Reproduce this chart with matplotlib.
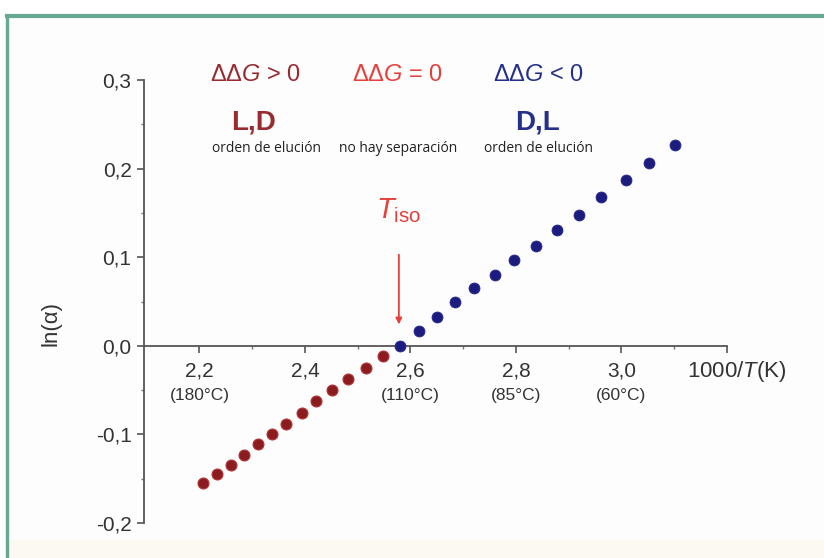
import numpy as np
import matplotlib
matplotlib.use('Agg')
import matplotlib.pyplot as plt
from matplotlib.lines import Line2D
from matplotlib.patches import Rectangle

plt.rcParams['font.family'] = ['Liberation Sans', 'DejaVu Sans']
plt.rcParams['mathtext.fontset'] = 'custom'
plt.rcParams['mathtext.rm'] = 'Liberation Sans'
plt.rcParams['mathtext.it'] = 'Liberation Sans:italic'
plt.rcParams['mathtext.bf'] = 'Liberation Sans:bold'

# Data
red_x = [2.207, 2.233, 2.259, 2.284, 2.311, 2.337, 2.364, 2.394, 2.421, 2.451, 2.482, 2.515, 2.547]
red_y = [-0.155, -0.145, -0.134, -0.123, -0.111, -0.100, -0.088, -0.076, -0.062, -0.050, -0.038, -0.025, -0.011]
blue_x = [2.581, 2.617, 2.650, 2.685, 2.721, 2.760, 2.797, 2.837, 2.877, 2.920, 2.962, 3.008, 3.053, 3.102]
blue_y = [0.000, 0.017, 0.032, 0.049, 0.065, 0.080, 0.097, 0.113, 0.131, 0.148, 0.168, 0.187, 0.206, 0.227]

x_ticks = [2.2, 2.4, 2.6, 2.8, 3.0, 3.2]
x_ticklabels = ['2,2', '2,4', '2,6', '2,8', '3,0', '']
temp_pos = [2.2, 2.6, 2.8, 3.0]
temp_labels = ['(180°C)', '(110°C)', '(85°C)', '(60°C)']
y_ticks = [-0.2, -0.1, 0.0, 0.1, 0.2, 0.3]
y_ticklabels = ['-0,2', '-0,1', '0,0', '0,1', '0,2', '0,3']

dg_labels = ['ΔΔ$G$ > 0', 'ΔΔ$G$ = 0', 'ΔΔ$G$ < 0']
dg_pos = [2.307, 2.576, 2.842]
order_labels = ['L,D', 'D,L']
order_pos = [2.302, 2.840]
elution_labels = ['orden de elución', 'no hay separación', 'orden de elución']
elution_pos = [2.328, 2.576, 2.842]
t_iso = 2.578

dark_red = '#982a30'
bright_red = '#e5403a'
navy = '#25308a'

fig = plt.figure(figsize=(8.24, 5.58), dpi=100)
fig.patch.set_facecolor('white')

# frame of the original figure panel
fig.add_artist(Rectangle((0.008, 0.0), 1.0, 0.971, transform=fig.transFigure,
                         facecolor='#fdfdfd', edgecolor='none', zorder=-5))
fig.add_artist(Rectangle((0.008, 0.0), 1.0, 0.032, transform=fig.transFigure,
                         facecolor='#fbf9f2', edgecolor='none', zorder=-4))
fig.add_artist(Line2D([0.008, 1.0], [0.971, 0.971], transform=fig.transFigure,
                      color='#66a891', lw=3.0))
fig.add_artist(Line2D([0.008, 0.008], [0.0, 0.971], transform=fig.transFigure,
                      color='#66a891', lw=2.4))

ax = fig.add_axes([0.1748, 0.0627, 0.7075, 0.7939])
ax.patch.set_alpha(0)

ax.scatter(red_x, red_y, s=62, color='#8a1c1f', edgecolors='#b2363a', linewidths=0.8, zorder=3)
ax.scatter(blue_x, blue_y, s=62, color='#1c1c7e', edgecolors='#2a2a90', linewidths=0.6, zorder=3)

ax.set_xlim(2.095, 3.2)
ax.set_ylim(-0.2, 0.3)

for s in ['top', 'right']:
    ax.spines[s].set_visible(False)
ax.spines['bottom'].set_position(('data', 0))
for s in ['bottom', 'left']:
    ax.spines[s].set_color('#555555')
    ax.spines[s].set_linewidth(1.3)

ax.set_xticks(x_ticks)
ax.set_xticklabels(x_ticklabels)
ax.set_xticks(np.arange(2.3, 3.15, 0.2), minor=True)
ax.set_yticks(y_ticks)
ax.set_yticklabels(y_ticklabels)
ax.set_yticks(np.arange(-0.15, 0.3, 0.1), minor=True)
ax.tick_params(which='major', direction='out', length=5, width=1.2, color='#555555',
               labelsize=15, labelcolor='#333333')
ax.tick_params(which='minor', direction='out', length=2.5, width=1.0, color='#777777')
ax.tick_params(axis='x', which='major', pad=6)
ax.tick_params(axis='y', which='major', pad=4)

for x, lab in zip(temp_pos, temp_labels):
    ax.text(x, -0.056, lab, ha='center', va='center', fontsize=12.5, color='#333333')

ax.text(3.124, -0.0287, '1000/$T$(K)', ha='left', va='center', fontsize=16, color='#333333')

ax.set_ylabel('ln(α)', fontsize=16, color='#333333')
ax.yaxis.set_label_coords(-0.142, 0.451)

# top annotations
dg_colors = [dark_red, bright_red, navy]
for x, lab, c in zip(dg_pos, dg_labels, dg_colors):
    ax.text(x, 0.306, lab, ha='center', va='center', fontsize=17, color=c)
for x, lab, c in zip(order_pos, order_labels, [dark_red, navy]):
    ax.text(x, 0.252, lab, ha='center', va='center', fontsize=20, fontweight='bold', color=c)
for x, lab in zip(elution_pos, elution_labels):
    ax.text(x, 0.223, lab, ha='center', va='center', fontsize=10, color='#222222',
            family=['Open Sans', 'DejaVu Sans'])

# isoenantioselective temperature
ax.text(t_iso, 0.144, r'$T_{\mathrm{iso}}$', ha='center', va='baseline', fontsize=21, color=bright_red)
ax.annotate('', xy=(t_iso, 0.021), xytext=(t_iso, 0.106),
            arrowprops=dict(arrowstyle='-|>', color=bright_red, lw=1.3, mutation_scale=9))

plt.savefig('out.png', dpi=100)
